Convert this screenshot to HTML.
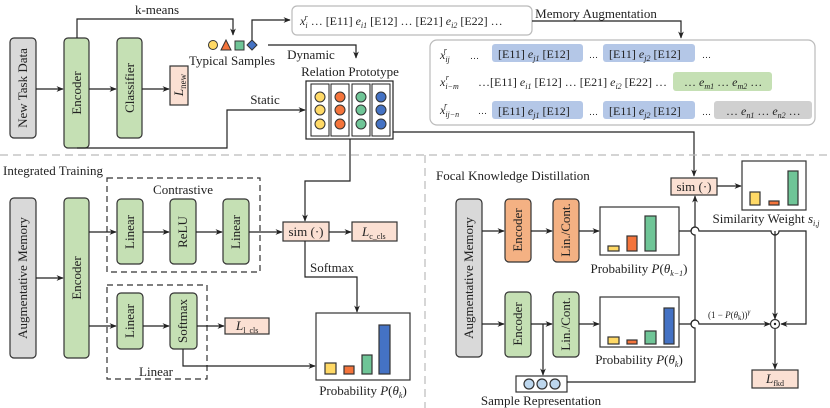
<!DOCTYPE html>
<html><head><meta charset="utf-8"><style>
body{margin:0;background:#fff}
svg{display:block;font-family:"Liberation Serif",serif}
</style></head><body>
<svg width="830" height="408" viewBox="0 0 830 408" xmlns="http://www.w3.org/2000/svg">
<defs>
<marker id="a" viewBox="0 0 10 10" refX="9" refY="5" markerWidth="6" markerHeight="6" orient="auto"><path d="M0,1 L10,5 L0,9 L3,5z" fill="#222"/></marker>
</defs>
<g stroke="#333" stroke-width="1.2">
<rect x="10" y="38" width="26" height="100" rx="4" fill="#d9d9d9"/>
<rect x="64" y="38" width="25" height="110" rx="4" fill="#c5e0b4"/>
<rect x="117" y="38" width="25" height="100" rx="4" fill="#c5e0b4"/>
<rect x="170" y="66" width="18" height="39" fill="#fbe0d3"/>
<rect x="292" y="6" width="240" height="29" rx="5" fill="#fff" stroke="#bbb"/>
<rect x="430" y="40" width="385" height="85" rx="7" fill="#fff" stroke="#bbb"/>
</g>
<g stroke="none">
<rect x="492" y="44" width="91" height="18" rx="3" fill="#b4c7e7"/>
<rect x="603" y="44" width="92" height="18" rx="3" fill="#b4c7e7"/>
<rect x="673" y="72" width="99" height="19" rx="3" fill="#c5e0b4"/>
<rect x="492" y="101" width="91" height="18" rx="3" fill="#b4c7e7"/>
<rect x="603" y="101" width="92" height="18" rx="3" fill="#b4c7e7"/>
<rect x="714" y="101" width="98" height="18" rx="3" fill="#d0d0d0"/>
</g>
<g fill="none" stroke="#222" stroke-width="1.2">
<path d="M36,89H63" marker-end="url(#a)"/>
<path d="M89,89H116" marker-end="url(#a)"/>
<path d="M142,89H169" marker-end="url(#a)"/>
<path d="M77,38V19H233V35" marker-end="url(#a)"/>
<path d="M252,43V20H290" marker-end="url(#a)"/>
<path d="M268,45H356V58" marker-end="url(#a)"/>
<path d="M77,148H227V110H305" marker-end="url(#a)"/>
<path d="M532,21H681V38" marker-end="url(#a)"/>
<path d="M393,132H694V176" marker-end="url(#a)"/>
<path d="M350,139V181H305V221" marker-end="url(#a)"/>
</g>
<circle cx="213" cy="45" r="4.5" fill="#ffd966" stroke="#333"/>
<path d="M221,50L226,40L231,50Z" fill="#f4743b" stroke="#333"/>
<rect x="235" y="41" width="9" height="9" fill="#6fc597" stroke="#333"/>
<path d="M252,40L257,45L252,50L247,45Z" fill="#4472c4" stroke="#333"/>
<rect x="306" y="81" width="87" height="58" fill="#fff" stroke="#222" stroke-width="1.2"/>
<g stroke="#222" fill="none"><rect x="311" y="84" width="18" height="52"/><rect x="331" y="84" width="18" height="52"/><rect x="352" y="84" width="18" height="52"/><rect x="372" y="84" width="18" height="52"/></g>
<g stroke="#333">
<circle cx="320" cy="97" r="5" fill="#ffd966"/><circle cx="320" cy="110" r="5" fill="#ffd966"/><circle cx="320" cy="124" r="5" fill="#ffd966"/>
<circle cx="340" cy="97" r="5" fill="#f4743b"/><circle cx="340" cy="110" r="5" fill="#f4743b"/><circle cx="340" cy="124" r="5" fill="#f4743b"/>
<circle cx="361" cy="97" r="5" fill="#6fc597"/><circle cx="361" cy="110" r="5" fill="#6fc597"/><circle cx="361" cy="124" r="5" fill="#6fc597"/>
<circle cx="381" cy="97" r="5" fill="#4472c4"/><circle cx="381" cy="110" r="5" fill="#4472c4"/><circle cx="381" cy="124" r="5" fill="#4472c4"/>
</g>
<g font-size="13" fill="#222">
<text transform="translate(27,88) rotate(-90)" text-anchor="middle">New Task Data</text>
<text transform="translate(81,93) rotate(-90)" text-anchor="middle">Encoder</text>
<text transform="translate(134,88) rotate(-90)" text-anchor="middle">Classifier</text>
<text transform="translate(183,85) rotate(-90)" text-anchor="middle" font-style="italic">L<tspan font-style="normal" font-size="9" dy="3">new</tspan></text>
<text x="157" y="14" text-anchor="middle">k-means</text>
<text x="232" y="65" text-anchor="middle">Typical Samples</text>
<text x="311" y="59" text-anchor="middle">Dynamic</text>
<text x="350" y="76" text-anchor="middle">Relation Prototype</text>
<text x="265" y="104" text-anchor="middle">Static</text>
<text x="596" y="18" text-anchor="middle">Memory Augmentation</text>
</g>
<g font-size="12" fill="#222">
<text x="300" y="25"><tspan font-style="italic">x</tspan><tspan font-size="8" font-style="italic" dy="3">i</tspan><tspan font-size="8" font-style="italic" dx="-3" dy="-8">r</tspan><tspan dy="5"> … [E11] </tspan><tspan font-style="italic">e</tspan><tspan font-size="8" font-style="italic" dy="3">i1</tspan><tspan dy="-3"> [E12] … [E21] </tspan><tspan font-style="italic">e</tspan><tspan font-size="8" font-style="italic" dy="3">i2</tspan><tspan dy="-3"> [E22] …</tspan></text>
<text x="440" y="59" font-style="italic">x<tspan font-size="8" dy="3">ij</tspan><tspan font-size="8" dx="-6" dy="-9">r</tspan></text>
<text x="470" y="59" font-size="9">…</text>
<text x="498" y="58">[E11] <tspan font-style="italic">e</tspan><tspan font-size="8" font-style="italic" dy="3">j1</tspan><tspan dy="-3"> [E12]</tspan></text>
<text x="589" y="58" font-size="9">…</text>
<text x="609" y="58">[E11] <tspan font-style="italic">e</tspan><tspan font-size="8" font-style="italic" dy="3">j2</tspan><tspan dy="-3"> [E12]</tspan></text>
<text x="702" y="58" font-size="9">…</text>
<text x="440" y="86" font-style="italic">x<tspan font-size="8" dy="3">i−m</tspan><tspan font-size="8" dx="-13" dy="-9">r</tspan></text>
<text x="478" y="86">…[E11] <tspan font-style="italic">e</tspan><tspan font-size="8" font-style="italic" dy="3">i1</tspan><tspan dy="-3"> [E12] … [E21] </tspan><tspan font-style="italic">e</tspan><tspan font-size="8" font-style="italic" dy="3">i2</tspan><tspan dy="-3"> [E22] …</tspan></text>
<text x="684" y="86">… <tspan font-style="italic">e</tspan><tspan font-size="8" font-style="italic" dy="3">m1</tspan><tspan dy="-3"> … </tspan><tspan font-style="italic">e</tspan><tspan font-size="8" font-style="italic" dy="3">m2</tspan><tspan dy="-3"> …</tspan></text>
<text x="440" y="114" font-style="italic">x<tspan font-size="8" dy="3">ij−n</tspan><tspan font-size="8" dx="-15" dy="-9">r</tspan></text>
<text x="478" y="114" font-size="9">…</text>
<text x="498" y="115">[E11] <tspan font-style="italic">e</tspan><tspan font-size="8" font-style="italic" dy="3">j1</tspan><tspan dy="-3"> [E12]</tspan></text>
<text x="589" y="115" font-size="9">…</text>
<text x="609" y="115">[E11] <tspan font-style="italic">e</tspan><tspan font-size="8" font-style="italic" dy="3">j2</tspan><tspan dy="-3"> [E12]</tspan></text>
<text x="702" y="115" font-size="9">…</text>
<text x="726" y="115">… <tspan font-style="italic">e</tspan><tspan font-size="8" font-style="italic" dy="3">n1</tspan><tspan dy="-3"> … </tspan><tspan font-style="italic">e</tspan><tspan font-size="8" font-style="italic" dy="3">n2</tspan><tspan dy="-3"> …</tspan></text>
</g>
<g stroke="#bbb" stroke-width="1.2" stroke-dasharray="8,5" fill="none">
<path d="M0,155H830"/><path d="M425,155V408"/>
</g>
<g stroke="#333" stroke-width="1.2">
<rect x="107" y="178" width="153" height="94" fill="none" stroke-dasharray="6,4"/>
<rect x="107" y="285" width="100" height="94" fill="none" stroke-dasharray="6,4"/>
<rect x="10" y="198" width="26" height="160" rx="4" fill="#d9d9d9"/>
<rect x="64" y="198" width="25" height="160" rx="4" fill="#c5e0b4"/>
<rect x="117" y="199" width="26" height="65" rx="4" fill="#c5e0b4"/>
<rect x="170" y="199" width="26" height="65" rx="4" fill="#c5e0b4"/>
<rect x="223" y="199" width="26" height="65" rx="4" fill="#c5e0b4"/>
<rect x="117" y="293" width="26" height="56" rx="4" fill="#c5e0b4"/>
<rect x="170" y="293" width="27" height="56" rx="4" fill="#c5e0b4"/>
<rect x="283" y="222" width="46" height="19" fill="#fbe0d3"/>
<rect x="352" y="222" width="45" height="19" fill="#fbe0d3"/>
<rect x="225" y="318" width="44" height="16" fill="#fbe0d3"/>
<rect x="316" y="313" width="94" height="67" fill="#fff"/>
<rect x="325" y="363" width="11" height="11" fill="#ffd966"/>
<rect x="344" y="366" width="10" height="8" fill="#f4743b"/>
<rect x="362" y="355" width="10" height="19" fill="#6fc597"/>
<rect x="379" y="325" width="11" height="49" fill="#4472c4"/>
</g>
<g fill="none" stroke="#222" stroke-width="1.2">
<path d="M36,278H63" marker-end="url(#a)"/>
<path d="M89,232H116" marker-end="url(#a)"/>
<path d="M143,232H169" marker-end="url(#a)"/>
<path d="M196,232H222" marker-end="url(#a)"/>
<path d="M249,232H282" marker-end="url(#a)"/>
<path d="M329,232H351" marker-end="url(#a)"/>
<path d="M89,326H116" marker-end="url(#a)"/>
<path d="M143,326H169" marker-end="url(#a)"/>
<path d="M197,326H224" marker-end="url(#a)"/>
<path d="M305,241V277H357V312" marker-end="url(#a)"/>
<path d="M183,349V366H315" marker-end="url(#a)"/>
</g>
<g font-size="13" fill="#222">
<text x="3" y="175">Integrated Training</text>
<text x="183" y="194" text-anchor="middle">Contrastive</text>
<text x="156" y="376" text-anchor="middle">Linear</text>
<text transform="translate(27,278) rotate(-90)" text-anchor="middle">Augmentative Memory</text>
<text transform="translate(81,278) rotate(-90)" text-anchor="middle">Encoder</text>
<text transform="translate(134,232) rotate(-90)" text-anchor="middle">Linear</text>
<text transform="translate(187,232) rotate(-90)" text-anchor="middle">ReLU</text>
<text transform="translate(240,232) rotate(-90)" text-anchor="middle">Linear</text>
<text transform="translate(134,321) rotate(-90)" text-anchor="middle">Linear</text>
<text transform="translate(187,321) rotate(-90)" text-anchor="middle">Softmax</text>
<text x="306" y="236" text-anchor="middle">sim (·)</text>
<text x="362" y="236" font-style="italic">L<tspan font-size="8" font-style="normal" dy="3">c_cls</tspan></text>
<text x="236" y="330" font-style="italic">L<tspan font-size="8" font-style="normal" dy="3">l_cls</tspan></text>
<text x="332" y="272" text-anchor="middle">Softmax</text>
<text x="363" y="395" text-anchor="middle">Probability <tspan font-style="italic">P</tspan>(<tspan font-style="italic">θ</tspan><tspan font-size="8" font-style="italic" dy="3">k</tspan><tspan dy="-3">)</tspan></text>
</g>
<g stroke="#333" stroke-width="1.2">
<rect x="456" y="199" width="26" height="158" rx="4" fill="#d9d9d9"/>
<rect x="505" y="199" width="26" height="63" rx="4" fill="#f4b183"/>
<rect x="553" y="199" width="26" height="63" rx="4" fill="#f4b183"/>
<rect x="505" y="292" width="26" height="65" rx="4" fill="#c5e0b4"/>
<rect x="553" y="292" width="26" height="65" rx="4" fill="#c5e0b4"/>
<rect x="600" y="207" width="79" height="48" fill="#fff"/>
<rect x="608" y="246" width="11" height="5" fill="#ffd966"/>
<rect x="627" y="236" width="10" height="15" fill="#f4743b"/>
<rect x="645" y="216" width="11" height="35" fill="#6fc597"/>
<rect x="600" y="297" width="79" height="50" fill="#fff"/>
<rect x="608" y="337" width="11" height="7" fill="#ffd966"/>
<rect x="627" y="340" width="10" height="4" fill="#f4743b"/>
<rect x="645" y="331" width="11" height="13" fill="#6fc597"/>
<rect x="664" y="308" width="10" height="36" fill="#4472c4"/>
<rect x="516" y="376" width="51" height="16" fill="#fff"/>
<circle cx="529" cy="384" r="5" fill="#bdd7ee"/><circle cx="542" cy="384" r="5" fill="#bdd7ee"/><circle cx="555" cy="384" r="5" fill="#bdd7ee"/>
<rect x="671" y="178" width="46" height="17" fill="#fbe0d3"/>
<rect x="742" y="161" width="64" height="49" fill="#fff"/>
<rect x="750" y="192" width="10" height="13" fill="#ffd966"/>
<rect x="769" y="201" width="10" height="4" fill="#f4743b"/>
<rect x="788" y="171" width="10" height="34" fill="#6fc597"/>
<rect x="752" y="370" width="46" height="18" fill="#fbe0d3"/>
<circle cx="775" cy="324" r="4.5" fill="#fff"/>
</g>
<circle cx="775" cy="324" r="1.2" fill="#222"/>
<g fill="none" stroke="#222" stroke-width="1.2">
<path d="M482,231H504" marker-end="url(#a)"/>
<path d="M531,231H552" marker-end="url(#a)"/>
<path d="M579,231H599" marker-end="url(#a)"/>
<path d="M482,324H504" marker-end="url(#a)"/>
<path d="M531,324H552" marker-end="url(#a)"/>
<path d="M579,324H599" marker-end="url(#a)"/>
<path d="M543,324V375" marker-end="url(#a)"/>
<path d="M567,382H695V328a4,4 0 0 1 0,-8V235a4,4 0 0 1 0,-8V196" marker-end="url(#a)"/>
<path d="M679,231H691a4,4 0 0 1 8,0H771a4,4 0 0 0 8,0H806V324H781" marker-end="url(#a)"/>
<path d="M775,231V319" marker-end="url(#a)"/>
<path d="M679,324H691a4,4 0 0 1 8,0H770" marker-end="url(#a)"/>
<path d="M775,329V369" marker-end="url(#a)"/>
<path d="M717,186H741" marker-end="url(#a)"/>
</g>
<g font-size="13" fill="#222">
<text x="436" y="180">Focal Knowledge Distillation</text>
<text transform="translate(473,278) rotate(-90)" text-anchor="middle">Augmentative Memory</text>
<text transform="translate(522,230) rotate(-90)" text-anchor="middle">Encoder</text>
<text transform="translate(570,230) rotate(-90)" text-anchor="middle">Lin./Cont.</text>
<text transform="translate(522,324) rotate(-90)" text-anchor="middle">Encoder</text>
<text transform="translate(570,324) rotate(-90)" text-anchor="middle">Lin./Cont.</text>
<text x="639" y="273" text-anchor="middle">Probability <tspan font-style="italic">P</tspan>(<tspan font-style="italic">θ</tspan><tspan font-size="8" font-style="italic" dy="3">k−1</tspan><tspan dy="-3">)</tspan></text>
<text x="639" y="364" text-anchor="middle">Probability <tspan font-style="italic">P</tspan>(<tspan font-style="italic">θ</tspan><tspan font-size="8" font-style="italic" dy="3">k</tspan><tspan dy="-3">)</tspan></text>
<text x="541" y="405" text-anchor="middle">Sample Representation</text>
<text x="694" y="191" text-anchor="middle">sim (·)</text>
<text x="766" y="223" text-anchor="middle">Similarity Weight <tspan font-style="italic">s</tspan><tspan font-size="8" font-style="italic" dy="3">i,j</tspan></text>
<text x="708" y="318" font-size="9">(1 − <tspan font-style="italic">P</tspan>(<tspan font-style="italic">θ</tspan><tspan font-size="7" dy="2">k</tspan><tspan dy="-2">))</tspan><tspan font-size="7" dy="-4" font-style="italic">γ</tspan></text>
<text x="775" y="383" text-anchor="middle" font-style="italic">L<tspan font-size="8" font-style="normal" dy="3">fkd</tspan></text>
</g>
</svg>
</body></html>
